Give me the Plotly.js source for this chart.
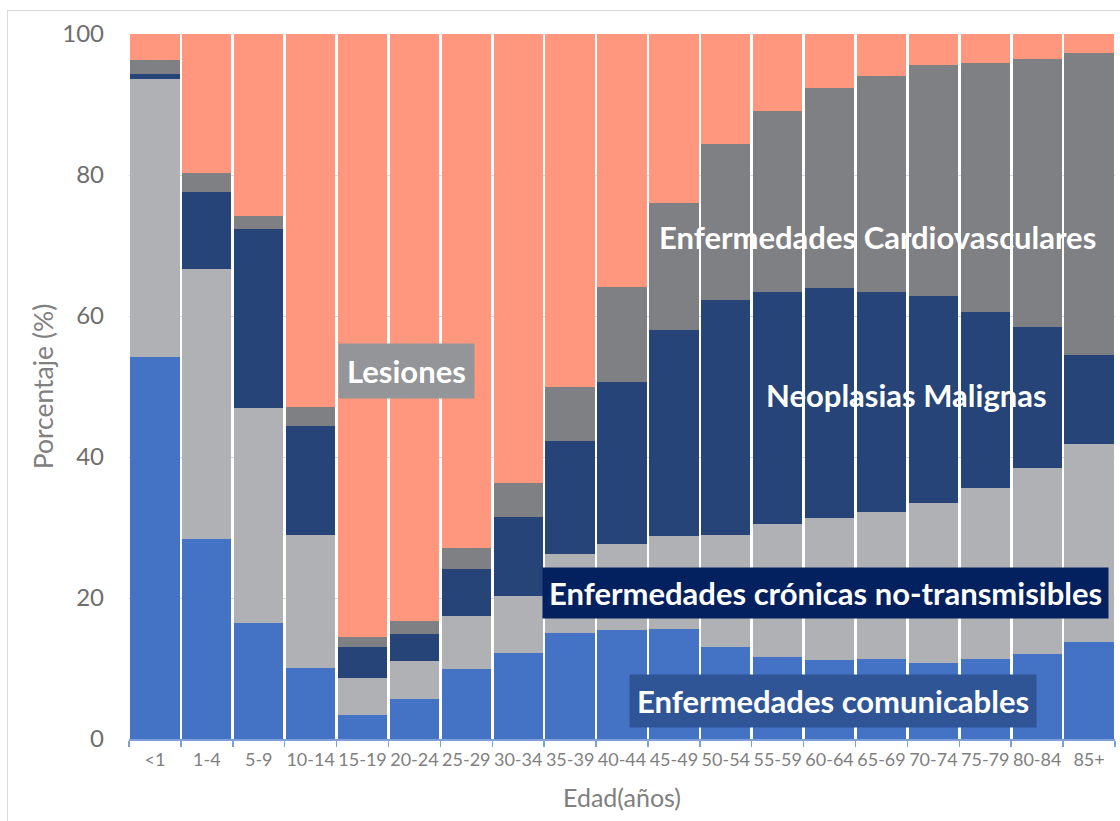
<!DOCTYPE html>
<html>
<head>
<meta charset="utf-8">
<script src="https://cdn.plot.ly/plotly-3.0.1.min.js"></script>
<style>
  html, body { margin: 0; padding: 0; overflow: hidden; background: #ffffff; }
  #chart { width: 1120px; height: 821px; position: absolute; left: 0; top: 0; }
  #frame { position: absolute; left: 7px; top: 10px; width: 1200px; height: 900px;
           border: 1px solid #D9D9D9; pointer-events: none; }
</style>
</head>
<body>
<div id="chart"></div>
<div id="frame"></div>
<script>
// Categories (age groups)
const ageGroups = ['<1','1-4','5-9','10-14','15-19','20-24','25-29','30-34','35-39','40-44',
                   '45-49','50-54','55-59','60-64','65-69','70-74','75-79','80-84','85+'];

// Series values (% of deaths), bottom to top of each stack
const comunicables    = [54.2, 28.3, 16.5, 10.1, 3.4, 5.7, 10.0, 12.2, 15.1, 15.5, 15.6, 13.0, 11.6, 11.2, 11.3, 10.8, 11.3, 12.0, 13.8];
const cronicasNoTrans = [39.4, 38.3, 30.4, 18.8, 5.3, 5.4, 7.4, 8.1, 11.1, 12.2, 13.2, 15.9, 18.9, 20.1, 20.9, 22.7, 24.3, 26.5, 28.0];
const neoplasias      = [0.7, 11.0, 25.5, 15.5, 4.3, 3.8, 6.7, 11.2, 16.0, 22.9, 29.2, 33.4, 32.9, 32.7, 31.2, 29.3, 24.9, 20.0, 12.7];
const cardiovasc      = [2.0, 2.7, 1.8, 2.7, 1.5, 1.9, 3.0, 4.8, 7.7, 13.5, 18.0, 22.1, 25.7, 28.4, 30.6, 32.8, 35.4, 38.0, 42.8];
const lesiones        = [3.7, 19.7, 25.8, 52.9, 85.5, 83.2, 72.9, 63.7, 50.1, 35.9, 24.0, 15.6, 10.9, 7.6, 6.0, 4.4, 4.1, 3.5, 2.7];

const yTicks = [0, 20, 40, 60, 80, 100];

const seriesNames  = ['Enfermedades comunicables', 'Enfermedades crónicas no-transmisibles',
                      'Neoplasias Malignas', 'Enfermedades Cardiovasculares', 'Lesiones'];
const seriesValues = [comunicables, cronicasNoTrans, neoplasias, cardiovasc, lesiones];
const seriesColors = ['#4472C4', '#B0B1B4', '#264478', '#7F8084', '#FF967E'];

const FONT = 'Lato, "Open Sans", sans-serif';

const traces = seriesValues.map((vals, i) => ({
  type: 'bar',
  name: seriesNames[i],
  x: ageGroups,
  y: vals,
  marker: { color: seriesColors[i], line: { width: 0 } },
  hoverinfo: 'x+y+name'
}));

const labelFont = { family: FONT, size: 31, color: '#FFFFFF', weight: 'bold' };

const layout = {
  width: 1120,
  height: 821,
  barmode: 'stack',
  bargap: 0.05,
  showlegend: false,
  paper_bgcolor: 'rgba(0,0,0,0)',
  plot_bgcolor: '#FFFFFF',
  margin: { l: 129, r: 5, t: 34, b: 82 },
  font: { family: FONT, color: '#7F7F7F' },
  xaxis: {
    type: 'category',
    tickson: 'boundaries',
    tickangle: 0,
    ticks: 'outside',
    ticklen: 6,
    tickcolor: '#7DA0DA',
    tickwidth: 1.5,
    ticklabelstandoff: 4,
    showline: true,
    linecolor: '#7DA0DA',
    linewidth: 1.5,
    showgrid: false,
    tickfont: { family: FONT, size: 18, color: '#808080' },
    title: { text: 'Edad(años)', font: { family: FONT, size: 25, color: '#808080' }, standoff: 20 }
  },
  yaxis: {
    range: [0, 100],
    tickvals: yTicks,
    ticktext: yTicks.map(String),
    showgrid: true,
    gridcolor: '#D9D9D9',
    gridwidth: 1,
    zeroline: false,
    showline: false,
    ticks: '',
    ticklabelstandoff: 24,
    tickfont: { family: FONT, size: 24, color: '#6E6E6E' },
    title: { text: 'Porcentaje (%)', font: { family: FONT, size: 26.5, color: '#808080' }, standoff: 0 }
  },
  annotations: [
    { xref: 'paper', yref: 'paper', x: 0.2814, y: 0.5213, xanchor: 'center', yanchor: 'middle',
      text: 'Lesiones', showarrow: false, bgcolor: '#939598', borderpad: 8, font: labelFont },
    { xref: 'paper', yref: 'paper', x: 0.7596, y: 0.712, xanchor: 'center', yanchor: 'middle',
      text: 'Enfermedades Cardiovasculares', showarrow: false, font: labelFont },
    { xref: 'paper', yref: 'paper', x: 0.789, y: 0.488, xanchor: 'center', yanchor: 'middle',
      text: 'Neoplasias Malignas', showarrow: false, font: labelFont },
    { xref: 'paper', yref: 'paper', x: 0.7064, y: 0.2078, xanchor: 'center', yanchor: 'middle',
      text: 'Enfermedades crónicas no-transmisibles', showarrow: false, bgcolor: '#03205F',
      borderpad: 6, font: labelFont },
    { xref: 'paper', yref: 'paper', x: 0.714, y: 0.0546, xanchor: 'center', yanchor: 'middle',
      text: 'Enfermedades comunicables', showarrow: false, bgcolor: '#2F5597',
      borderpad: 7, font: labelFont }
  ]
};

Plotly.newPlot('chart', traces, layout, { displayModeBar: false, staticPlot: true });
</script>
</body>
</html>
